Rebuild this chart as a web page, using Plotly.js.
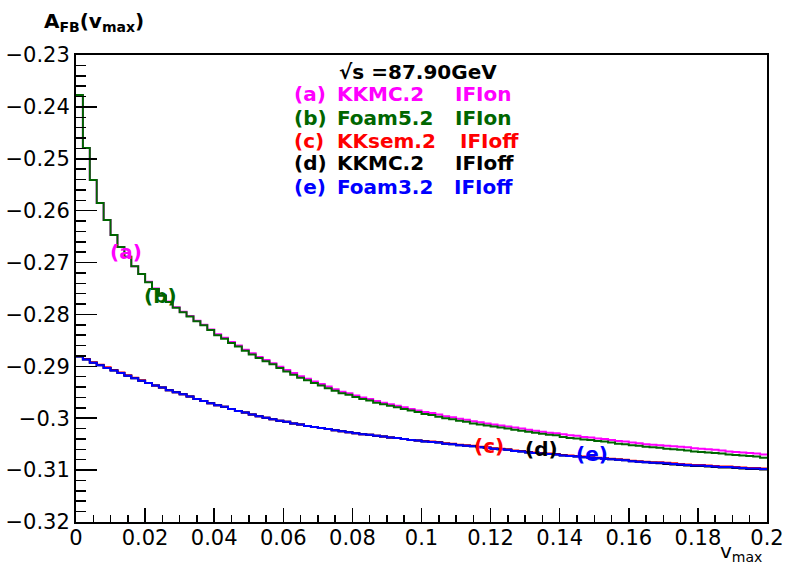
<!DOCTYPE html>
<html>
<head>
<meta charset="utf-8">
<script src="https://cdn.plot.ly/plotly-3.0.1.min.js"></script>
<style>html,body{margin:0;padding:0;background:#fff;}#chart{width:785px;height:564px;}</style>
</head>
<body>
<div id="chart"></div>
<script>
// Histogram binning of v_max
const vLow = 0, vHigh = 0.2, nBins = 100;

// (a) KKMC.2 IFIon
const afbKKMCIFIon = [
-0.2377,-0.2479,-0.2541,-0.2585,-0.2618,-0.2647,-0.2670,-0.2689,-0.2707,-0.2722,
-0.2737,-0.2750,-0.2763,-0.2775,-0.2786,-0.2795,-0.2803,-0.2812,-0.2820,-0.2829,
-0.2838,-0.2845,-0.2853,-0.2860,-0.2868,-0.2875,-0.2882,-0.2888,-0.2894,-0.2901,
-0.2907,-0.2913,-0.2919,-0.2924,-0.2929,-0.2934,-0.2939,-0.2944,-0.2949,-0.2952,
-0.2956,-0.2960,-0.2963,-0.2967,-0.2970,-0.2973,-0.2976,-0.2979,-0.2982,-0.2985,
-0.2988,-0.2990,-0.2993,-0.2996,-0.2998,-0.3001,-0.3003,-0.3006,-0.3008,-0.3010,
-0.3012,-0.3014,-0.3016,-0.3018,-0.3020,-0.3022,-0.3024,-0.3026,-0.3028,-0.3029,
-0.3031,-0.3033,-0.3034,-0.3036,-0.3037,-0.3039,-0.3040,-0.3042,-0.3044,-0.3045,
-0.3047,-0.3048,-0.3050,-0.3051,-0.3052,-0.3053,-0.3054,-0.3055,-0.3056,-0.3058,
-0.3059,-0.3060,-0.3061,-0.3062,-0.3064,-0.3065,-0.3066,-0.3067,-0.3068,-0.3070];

// (b) Foam5.2 IFIon
const afbFoam5IFIon = [
-0.2377,-0.2479,-0.2541,-0.2585,-0.2618,-0.2647,-0.2670,-0.2689,-0.2707,-0.2722,
-0.2738,-0.2751,-0.2764,-0.2776,-0.2787,-0.2796,-0.2804,-0.2813,-0.2821,-0.2830,
-0.2840,-0.2847,-0.2855,-0.2862,-0.2870,-0.2877,-0.2884,-0.2890,-0.2896,-0.2903,
-0.2910,-0.2916,-0.2922,-0.2927,-0.2932,-0.2937,-0.2942,-0.2947,-0.2952,-0.2955,
-0.2959,-0.2963,-0.2966,-0.2970,-0.2973,-0.2976,-0.2979,-0.2982,-0.2985,-0.2988,
-0.2992,-0.2994,-0.2997,-0.3000,-0.3002,-0.3005,-0.3007,-0.3010,-0.3012,-0.3014,
-0.3016,-0.3018,-0.3020,-0.3022,-0.3024,-0.3026,-0.3028,-0.3030,-0.3032,-0.3033,
-0.3036,-0.3038,-0.3039,-0.3041,-0.3042,-0.3044,-0.3045,-0.3047,-0.3049,-0.3050,
-0.3052,-0.3053,-0.3055,-0.3056,-0.3057,-0.3059,-0.3060,-0.3061,-0.3062,-0.3064,
-0.3065,-0.3066,-0.3067,-0.3068,-0.3070,-0.3071,-0.3072,-0.3073,-0.3074,-0.3076];

// (c) KKsem.2 IFIoff
const afbKKsemIFIoff = [
-0.2880,-0.2886,-0.2892,-0.2897,-0.2902,-0.2907,-0.2912,-0.2917,-0.2922,-0.2927,
-0.2932,-0.2937,-0.2941,-0.2946,-0.2950,-0.2954,-0.2958,-0.2963,-0.2967,-0.2971,
-0.2975,-0.2978,-0.2982,-0.2986,-0.2989,-0.2993,-0.2996,-0.2999,-0.3002,-0.3005,
-0.3007,-0.3010,-0.3012,-0.3015,-0.3017,-0.3019,-0.3021,-0.3023,-0.3025,-0.3027,
-0.3029,-0.3031,-0.3032,-0.3034,-0.3035,-0.3037,-0.3038,-0.3040,-0.3042,-0.3043,
-0.3044,-0.3045,-0.3046,-0.3048,-0.3049,-0.3051,-0.3052,-0.3053,-0.3055,-0.3056,
-0.3058,-0.3059,-0.3060,-0.3062,-0.3063,-0.3065,-0.3066,-0.3067,-0.3068,-0.3069,
-0.3071,-0.3072,-0.3073,-0.3074,-0.3075,-0.3076,-0.3077,-0.3078,-0.3079,-0.3080,
-0.3082,-0.3083,-0.3084,-0.3085,-0.3085,-0.3086,-0.3087,-0.3088,-0.3089,-0.3090,
-0.3090,-0.3091,-0.3092,-0.3093,-0.3093,-0.3094,-0.3095,-0.3096,-0.3096,-0.3097];

// (d) KKMC.2 IFIoff
const afbKKMCIFIoff = [
-0.2881,-0.2887,-0.2893,-0.2898,-0.2903,-0.2908,-0.2913,-0.2918,-0.2923,-0.2928,
-0.2932,-0.2937,-0.2941,-0.2946,-0.2950,-0.2954,-0.2958,-0.2963,-0.2967,-0.2971,
-0.2975,-0.2978,-0.2982,-0.2986,-0.2989,-0.2993,-0.2996,-0.2999,-0.3002,-0.3005,
-0.3007,-0.3010,-0.3012,-0.3015,-0.3017,-0.3019,-0.3021,-0.3023,-0.3025,-0.3027,
-0.3029,-0.3031,-0.3032,-0.3034,-0.3035,-0.3037,-0.3038,-0.3040,-0.3042,-0.3043,
-0.3045,-0.3046,-0.3047,-0.3049,-0.3050,-0.3052,-0.3053,-0.3054,-0.3056,-0.3057,
-0.3059,-0.3060,-0.3061,-0.3063,-0.3064,-0.3066,-0.3067,-0.3068,-0.3069,-0.3070,
-0.3072,-0.3073,-0.3074,-0.3075,-0.3076,-0.3077,-0.3078,-0.3079,-0.3080,-0.3081,
-0.3083,-0.3084,-0.3085,-0.3086,-0.3087,-0.3088,-0.3089,-0.3090,-0.3091,-0.3092,
-0.3092,-0.3093,-0.3094,-0.3095,-0.3095,-0.3096,-0.3097,-0.3098,-0.3098,-0.3099];

// (e) Foam3.2 IFIoff
const afbFoam3IFIoff = [
-0.2881,-0.2887,-0.2893,-0.2898,-0.2903,-0.2908,-0.2913,-0.2918,-0.2923,-0.2928,
-0.2932,-0.2937,-0.2941,-0.2946,-0.2950,-0.2954,-0.2958,-0.2963,-0.2967,-0.2971,
-0.2975,-0.2978,-0.2982,-0.2986,-0.2989,-0.2993,-0.2996,-0.2999,-0.3002,-0.3005,
-0.3007,-0.3010,-0.3012,-0.3015,-0.3017,-0.3019,-0.3021,-0.3023,-0.3025,-0.3027,
-0.3029,-0.3031,-0.3032,-0.3034,-0.3035,-0.3037,-0.3038,-0.3040,-0.3042,-0.3043,
-0.3045,-0.3046,-0.3047,-0.3049,-0.3050,-0.3052,-0.3053,-0.3054,-0.3056,-0.3057,
-0.3059,-0.3060,-0.3061,-0.3063,-0.3064,-0.3066,-0.3067,-0.3068,-0.3069,-0.3070,
-0.3072,-0.3073,-0.3074,-0.3075,-0.3076,-0.3077,-0.3078,-0.3079,-0.3080,-0.3081,
-0.3083,-0.3084,-0.3085,-0.3086,-0.3086,-0.3087,-0.3088,-0.3089,-0.3090,-0.3091,
-0.3091,-0.3092,-0.3093,-0.3094,-0.3094,-0.3095,-0.3096,-0.3097,-0.3097,-0.3098];

const seriesTags = ['(a)', '(b)', '(c)', '(d)', '(e)'];
const seriesNames = ['KKMC.2', 'Foam5.2', 'KKsem.2', 'KKMC.2', 'Foam3.2'];
const seriesIFI = ['IFIon', 'IFIon', 'IFIoff', 'IFIoff', 'IFIoff'];
const seriesColors = ['#ff00ff', '#006600', '#ff0000', '#000000', '#0000ff'];
const energyLabel = '√s =87.90GeV';
const yTitle = '<b>A<sub>FB</sub>(v<sub>max</sub>)</b>';
const xTitle = 'v<sub>max</sub>';

const seriesValues = [afbKKMCIFIon, afbFoam5IFIon, afbKKsemIFIoff, afbKKMCIFIoff, afbFoam3IFIoff];
const binEdges = Array.from({length: nBins + 1}, (_, i) => vLow + i * (vHigh - vLow) / nBins);

const traces = seriesValues.map((vals, i) => ({
  type: 'scatter', mode: 'lines',
  x: binEdges,
  y: vals.concat([vals[vals.length - 1]]),
  line: {shape: 'hv', color: seriesColors[i], width: 2},
  name: seriesTags[i] + ' ' + seriesNames[i] + ' ' + seriesIFI[i],
  hoverinfo: 'skip'
}));

// pixel helpers for text placement (plot area 76..767 x, 55..522 y)
const L = 76, R = 767, T = 55, B = 522;
const px = p => (p - L) / (R - L);
const py = p => (B - p) / (B - T);

const boldFont = (c, s) => ({family: 'DejaVu Sans', size: s, color: c, weight: 'bold'});
const anns = [];
function addText(text, x, y, font, xanchor) {
  anns.push({text: text, xref: 'paper', yref: 'paper', x: px(x), y: py(y),
    xanchor: xanchor || 'left', yanchor: 'middle', showarrow: false, font: font});
}

addText(energyLabel, 337, 72, boldFont('#000000', 20));
const rowY = [94, 117.5, 141, 163, 186.5];
const ifiX = [453, 453, 458, 453, 452];
for (let i = 0; i < 5; i++) {
  addText(seriesTags[i], 292, rowY[i], boldFont(seriesColors[i], 20));
  addText(seriesNames[i], 335, rowY[i], boldFont(seriesColors[i], 20));
  addText(seriesIFI[i], ifiX[i], rowY[i], boldFont(seriesColors[i], 20));
}
// curve labels
const tagPos = [[126, 252], [160.5, 296], [488.5, 446], [541, 449], [591.5, 453.5]];
for (let i = 0; i < 5; i++) {
  addText(seriesTags[i], tagPos[i][0], tagPos[i][1], boldFont(seriesColors[i], 20), 'center');
}
// axis titles
addText(yTitle, 42, 22, {family: 'DejaVu Sans', size: 20, color: '#000'});
addText(xTitle, 764, 552, {family: 'DejaVu Sans', size: 20, color: '#000'}, 'right');

const tickFont = {family: 'DejaVu Sans', size: 21, color: '#000'};
const layout = {
  width: 785, height: 564,
  margin: {l: L, r: 785 - R, t: T, b: 564 - B, pad: 0},
  paper_bgcolor: '#fff', plot_bgcolor: '#fff',
  showlegend: false,
  xaxis: {
    range: [vLow, vHigh], tick0: 0, dtick: 0.02, ticks: 'inside', ticklen: 14, tickwidth: 1.5,
    tickcolor: '#000', showline: true, linewidth: 2, linecolor: '#000', mirror: true,
    showgrid: false, zeroline: false, tickfont: tickFont, ticklabelstandoff: -4,
    minor: {dtick: 0.005, ticks: 'inside', ticklen: 7, tickwidth: 1.5, tickcolor: '#000', showgrid: false}
  },
  yaxis: {
    range: [-0.32, -0.23], tick0: -0.32, dtick: 0.01, ticks: 'inside', ticklen: 21, tickwidth: 1.5,
    tickcolor: '#000', showline: true, linewidth: 2, linecolor: '#000', mirror: true,
    showgrid: false, zeroline: false, tickfont: tickFont,
    minor: {dtick: 0.002, ticks: 'inside', ticklen: 10, tickwidth: 1.5, tickcolor: '#000', showgrid: false}
  },
  annotations: anns
};

Plotly.newPlot('chart', traces, layout, {staticPlot: true, displayModeBar: false});
</script>
</body>
</html>
